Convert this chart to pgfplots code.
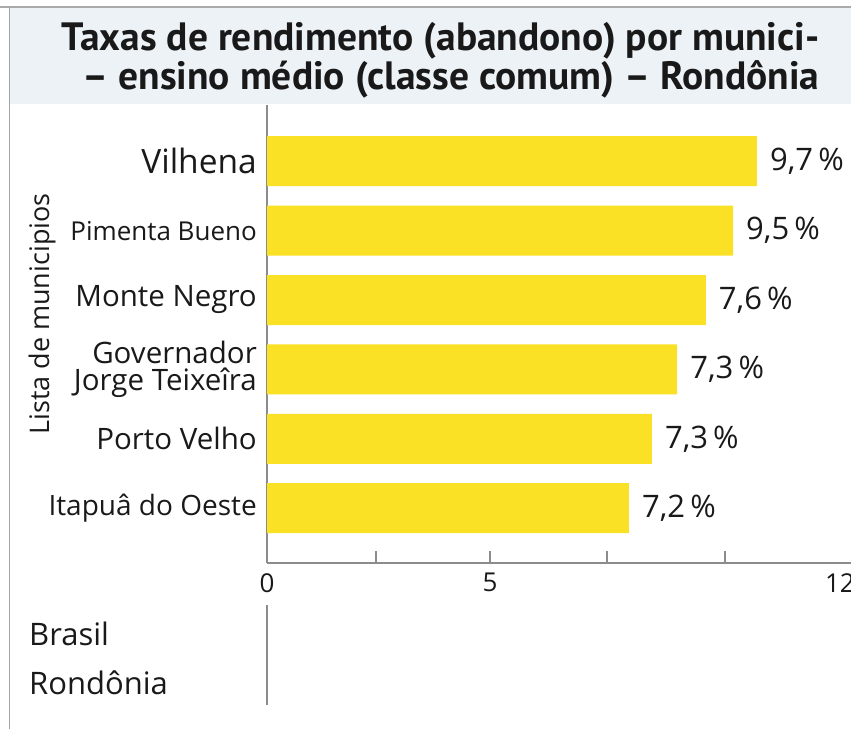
\documentclass[border=0pt]{standalone}
\usepackage{fontspec}
\setmainfont{Open Sans}
\newfontfamily\titlefont{PT Sans}
\usepackage{pgfplots}
\pgfplotsset{compat=1.18}
\definecolor{barYellow}{RGB}{251,225,38}
\definecolor{bannerBg}{RGB}{237,242,246}
\definecolor{lineGray}{RGB}{140,140,140}
\definecolor{topGray}{RGB}{170,170,170}
\definecolor{txt}{RGB}{25,25,25}
\newcommand{\fs}[1]{\fontsize{#1}{27}\selectfont}

\begin{document}
\begin{tikzpicture}[x=1pt,y=1pt]

    % title banner
    \fill[bannerBg] (10,-8) rectangle (851,-104);
    \draw[topGray, line width=2.5pt] (0,-7) -- (851,-7);
    \draw[lineGray!80, line width=1.2pt] (9.5,-7) -- (9.5,-729);
    \node[anchor=east, align=right, text=txt,
        font=\titlefont\fontsize{39.5}{33}\selectfont\bfseries] at (823,-60)
        {Taxas de rendimento (abandono) por munici-\\– ensino médio (classe comum) – Rondônia};

    \begin{axis}[
            at={(267pt,-563pt)},
            anchor=south west,
            scale only axis,
            width=593pt,
            height=458pt,
            xmin=0, xmax=12.42,
            ymin=-0.79, ymax=5.81,
            axis x line*=bottom,
            axis y line*=left,
            axis line style={lineGray, line width=1.5pt},
            xbar,
            bar width=50pt,
            tick align=inside,
            xtick={2.28,4.67,7.12,9.59},
            xticklabels={,5,,},
            extra x ticks={0,12},
            extra x tick labels={0,12},
            extra x tick style={major tick length=0pt},
            major tick length=12pt,
            x tick style={lineGray, line width=1.5pt},
            xticklabel style={font=\fontsize{26}{26}\selectfont, text=txt, inner sep=0pt, yshift=-10pt},
            ytick={0,1,2,3,4,5},
            yticklabels={
                {\fs{28}Itapuâ do Oeste},
                {\fs{29.5}Porto Velho},
                {\fs{29.5}Governador\\\fs{29.5}Jorge Teixeîra},
                {\fs{29.5}Monte Negro},
                {\fs{26}Pimenta Bueno},
                {\fs{33.5}Vilhena}},
            y tick style={draw=none},
            yticklabel style={font=\fs{29.5}, text=txt, align=right, inner sep=0pt, xshift=-10pt},
            point meta=explicit symbolic,
            nodes near coords,
            nodes near coords align=horizontal,
            every node near coord/.append style={font=\fontsize{31}{31}\selectfont, text=txt, anchor=west, inner sep=0pt, xshift=13pt},
            clip=false,
        ]
        \addplot[fill=barYellow, draw=none] coordinates {
                (7.58,0) [7,2\,\%]
                (8.06,1) [7,3\,\%]
                (8.59,2) [7,3\,\%]
                (9.19,3) [7,6\,\%]
                (9.76,4) [9,5\,\%]
                (10.26,5) [9,7\,\%]
            };
    \end{axis}

    % axis title on the left
    \node[rotate=90, text=txt, font=\fontsize{27}{27}\selectfont] at (42,-314) {Lista de municipios};

    % lower block
    \draw[lineGray, line width=1.5pt] (267,-605) -- (267,-705);
    \node[anchor=west, inner sep=0pt, text=txt, font=\fontsize{31}{31}\selectfont] at (29,-634) {Brasil};
    \node[anchor=west, inner sep=0pt, text=txt, font=\fontsize{31}{31}\selectfont] at (29,-683) {Rondônia};

    \pgfresetboundingbox
    \path[use as bounding box] (0,0) rectangle (851,-729);
\end{tikzpicture}
\end{document}
